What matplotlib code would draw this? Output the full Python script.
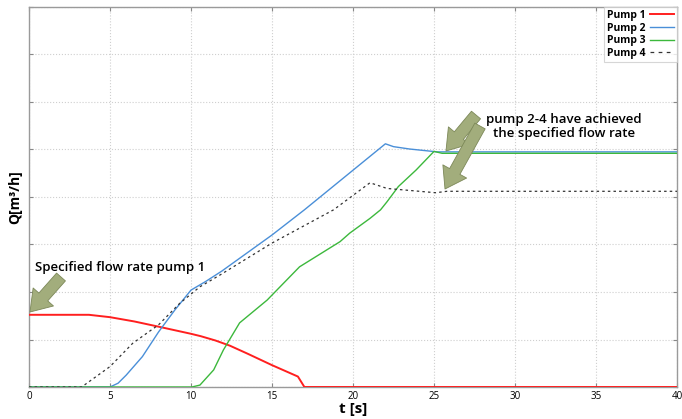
import matplotlib
matplotlib.use("Agg")
import matplotlib.pyplot as plt
from matplotlib.lines import Line2D

# data (t in s, Q in grid units)
t1 = [0, 3.7, 5, 6.5, 8, 10, 10.6, 11.5, 12.4, 13.5, 15, 16.6, 17.0, 40]
q1 = [1.52, 1.52, 1.47, 1.38, 1.27, 1.12, 1.07, 0.98, 0.87, 0.70, 0.46, 0.22, 0.0, 0.0]

t2 = [0, 5.0, 5.5, 6, 7, 8, 9, 10, 10.9, 11.9, 15, 17, 22.0, 22.5, 23.5, 25.2, 40]
q2 = [0, 0.0, 0.08, 0.25, 0.64, 1.16, 1.62, 2.04, 2.22, 2.44, 3.2, 3.73, 5.12, 5.06, 5.01, 4.95, 4.95]

t3 = [0, 10.05, 10.55, 11.4, 12.0, 13.0, 14.7, 16.7, 19.2, 19.8, 21.05, 21.7, 22.1, 22.8, 23.9, 25.0, 25.5, 40]
q3 = [0, 0.0, 0.04, 0.36, 0.78, 1.35, 1.83, 2.53, 3.06, 3.24, 3.55, 3.73, 3.90, 4.22, 4.57, 4.96, 4.92, 4.92]

t4 = [0, 3.25, 5.0, 6.4, 8.0, 9.3, 10.55, 11.8, 15.0, 18.8, 21.05, 22.1, 25.1, 25.8, 40]
q4 = [0, 0.0, 0.43, 0.92, 1.31, 1.76, 2.11, 2.36, 3.03, 3.73, 4.30, 4.18, 4.09, 4.12, 4.12]

labels = ["Pump 1", "Pump 2", "Pump 3", "Pump 4"]
colors = ["#ff1f1f", "#4a8fd8", "#3cb83c", "#333333"]
x_ticks = [0, 5, 10, 15, 20, 25, 30, 35, 40]

arrow_fc = "#a2ad7c"
arrow_ec = "#7c8858"

fig = plt.figure(figsize=(6.82, 4.19), dpi=100)
ax = fig.add_axes([29 / 682, 1 - 387 / 419, 648 / 682, 380 / 419])

ax.plot(t1, q1, color=colors[0], lw=1.4, zorder=3)
ax.plot(t2, q2, color=colors[1], lw=1.0, zorder=3)
ax.plot(t3, q3, color=colors[2], lw=1.0, zorder=3)
ax.plot(t4, q4, color=colors[3], lw=0.9, ls=(0, (2, 2.5)), zorder=3)

ax.set_xlim(0, 40)
ax.set_ylim(0, 8)
ax.set_xticks(x_ticks)
ax.set_yticks(range(0, 9))
ax.set_yticklabels([])
ax.tick_params(direction="in", length=3, color="#888888", top=True, right=True,
               labelsize=7, pad=3)
for lab in ax.get_xticklabels():
    lab.set_fontfamily("Open Sans")
ax.grid(True, color="#cfcfcf", ls=":", lw=0.8)
for s in ax.spines.values():
    s.set_color("#9a9a9a")
    s.set_linewidth(1.0)

ax.set_xlabel("t [s]", fontsize=11, fontweight="bold", family="Open Sans", labelpad=0)
ax.set_ylabel("Q[m³/h]", fontsize=10, fontweight="bold", family="Open Sans", labelpad=2)

# legend handles: pump 4 shown with coarser dashes, like the reference
handles = [Line2D([], [], color=colors[0], lw=1.4),
           Line2D([], [], color=colors[1], lw=1.0),
           Line2D([], [], color=colors[2], lw=1.0),
           Line2D([], [], color=colors[3], lw=0.9, ls=(0, (3, 3.5)))]
leg = ax.legend(handles, labels, loc="upper right", markerfirst=False, frameon=True,
                borderaxespad=0, handlelength=2.3, handletextpad=0.4,
                labelspacing=0.15, borderpad=0.3, fancybox=False,
                prop={"family": "Open Sans", "weight": "bold", "size": 7.5})
leg.get_frame().set_edgecolor("#cccccc")
leg.get_frame().set_linewidth(0.8)

arrow_style = "simple,head_width=1.15,head_length=0.85,tail_width=0.5"


def fat_arrow(tail, tip):
    ax.annotate("", xy=tip, xytext=tail, xycoords="figure pixels",
                textcoords="figure pixels",
                arrowprops=dict(arrowstyle=arrow_style, fc=arrow_fc, ec=arrow_ec,
                                lw=0.6, mutation_scale=17, shrinkA=0, shrinkB=0),
                zorder=5)


fat_arrow((61, 419 - 277), (30, 419 - 312))
fat_arrow((476, 419 - 115), (446, 419 - 151))
fat_arrow((480, 419 - 126), (445, 419 - 189))

fig.text(35 / 682, 1 - 268 / 419, "Specified flow rate pump 1", fontsize=9.5,
         fontweight="semibold", family="Open Sans", va="center", ha="left")
fig.text(564 / 682, 1 - 127 / 419, "pump 2-4 have achieved\nthe specified flow rate",
         fontsize=9.5, fontweight="semibold", family="Open Sans", va="center",
         ha="center", linespacing=1.1)

fig.savefig("out.png", dpi=100)
